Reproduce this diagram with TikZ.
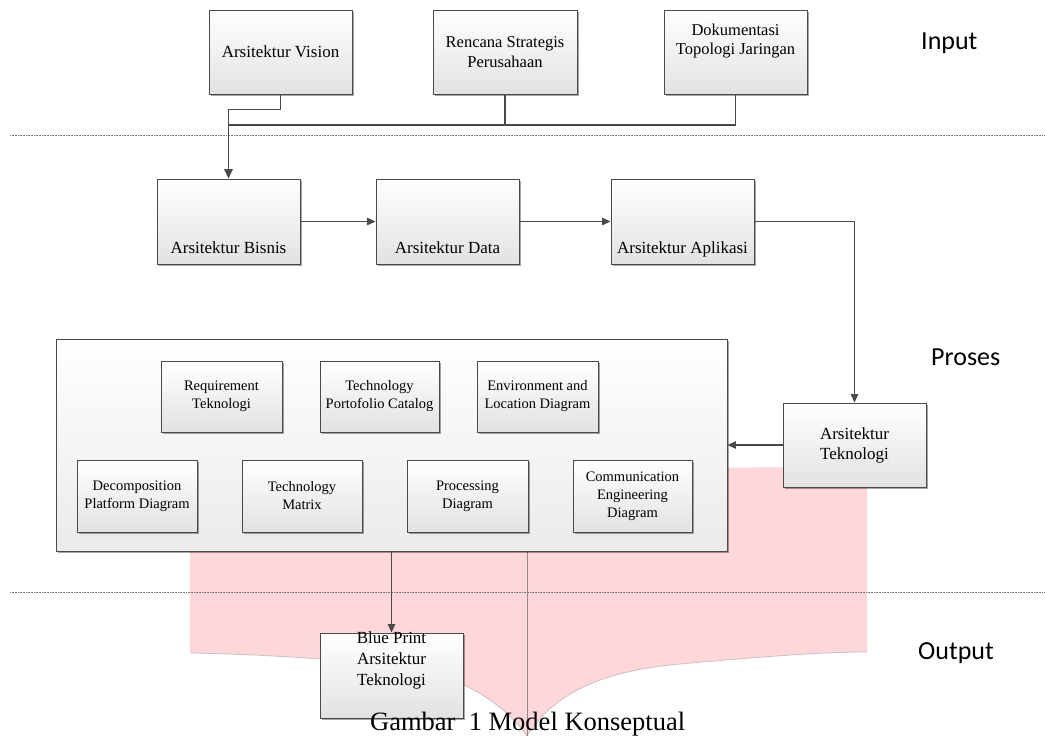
\documentclass[tikz,border=0pt]{standalone}
\usepackage{fontspec}
\setmainfont{Liberation Serif}
\newfontfamily\lblfont{Carlito}
\usetikzlibrary{arrows.meta,shadows}
\definecolor{edge}{HTML}{4A4A4A}
\definecolor{boxbot}{HTML}{E2E2E2}
\definecolor{pinkfill}{HTML}{FFD6DA}
\begin{document}
\begin{tikzpicture}[x=1pt,y=-1pt,
  box/.style={draw=edge, line width=0.9pt, top color=white, bottom color=boxbot,
    drop shadow={shadow xshift=2pt, shadow yshift=-2pt, fill=black, opacity=0.35},
    inner sep=0pt, align=center, font=\fontsize{17}{20}\selectfont},
  bigbox/.style={draw=edge, line width=0.9pt, top color=white, bottom color=black!8,
    drop shadow={shadow xshift=2pt, shadow yshift=-2pt, fill=black, opacity=0.35},
    inner sep=0pt},
  inbox/.style={box, font=\fontsize{14.5}{18}\selectfont},
  intext/.style={align=center, inner sep=0pt},
  conn/.style={draw=edge, line width=1.2pt},
  arr/.style={conn, -{Triangle[length=8.5pt,width=7.5pt]}},
  sep/.style={draw=black!55, line width=0.6pt, densely dotted},
  lbl/.style={font=\lblfont\fontsize{26}{30}\selectfont, anchor=base west, inner sep=0pt},
]
\useasboundingbox (0,0) rectangle (1045,736);

% separators
\draw[sep] (10,135) -- (1045,135);

% pink shape
\fill[pinkfill] (190,470) -- (190,653)
  .. controls (250,654) and (320,658) .. (390,665)
  .. controls (460,672) and (505,705) .. (527,736)
  .. controls (550,700) and (590,672) .. (680,664)
  .. controls (760,657) and (820,652) .. (867,652)
  -- (867,467) -- cycle;
\draw[black!30, line width=0.8pt, opacity=0.7] (190,653)
  .. controls (250,654) and (320,658) .. (390,665)
  .. controls (460,672) and (505,705) .. (527,736)
  .. controls (550,700) and (590,672) .. (680,664)
  .. controls (760,657) and (820,652) .. (867,652);
\draw[black!45, line width=0.6pt] (527,551) -- (527,736);
\draw[sep] (10,592) -- (1045,592);

% input boxes
\node[box, minimum width=143pt, minimum height=84pt] (vision) at (280.5,52) {Arsitektur Vision};
\node[box, minimum width=144pt, minimum height=84pt, font=\fontsize{16.5}{20}\selectfont] (rencana) at (505,52) {Rencana Strategis\\Perusahaan};
\node[box, minimum width=143pt, minimum height=84pt,
  label={[intext, font=\fontsize{16.5}{19.5}\selectfont, anchor=north, yshift=-14pt]north:Dokumentasi\\Topologi Jaringan}] (dok) at (735.5,52) {};

% process row
\node[box, minimum width=143pt, minimum height=85pt,
  label={[intext, font=\fontsize{17}{20}\selectfont, anchor=base, yshift=10.5pt]south:Arsitektur Bisnis}] (bisnis) at (228.5,221.5) {};
\node[box, minimum width=143pt, minimum height=85pt,
  label={[intext, font=\fontsize{17}{20}\selectfont, anchor=base, yshift=10.5pt]south:Arsitektur Data}] (data) at (447.5,221.5) {};
\node[box, minimum width=143pt, minimum height=85pt,
  label={[intext, font=\fontsize{17}{20}\selectfont, anchor=base, yshift=10.5pt]south:Arsitektur Aplikasi}] (aplikasi) at (682.5,221.5) {};

\node[box, minimum width=143pt, minimum height=84pt, font=\fontsize{17}{20}\selectfont] (teknologi) at (854.5,445) {Arsitektur\\Teknologi};

% big container
\node[bigbox, minimum width=671pt, minimum height=212pt] (big) at (391.5,445) {};
\node[inbox, minimum width=121pt, minimum height=71pt] (req) at (221.5,396.5) {Requirement\\Teknologi};
\node[inbox, minimum width=119pt, minimum height=71pt] (port) at (379.5,396.5) {Technology\\Portofolio Catalog};
\node[inbox, minimum width=121pt, minimum height=71pt] (env) at (537.5,396.5) {Environment and\\Location Diagram};
\node[inbox, minimum width=120pt, minimum height=72pt] (decomp) at (137,496) {Decomposition\\Platform Diagram};
\node[inbox, minimum width=120pt, minimum height=72pt] (matrix) at (302,496) {Technology\\Matrix};
\node[inbox, minimum width=121pt, minimum height=72pt] (proc) at (467.5,496) {Processing\\Diagram};
\node[inbox, minimum width=119pt, minimum height=72pt] (comm) at (632.5,496) {Communication\\Engineering\\Diagram};

% output
\node[box, minimum width=143pt, minimum height=85pt,
  label={[intext, font=\fontsize{17}{21}\selectfont, anchor=north, yshift=1pt]north:Blue Print\\Arsitektur\\Teknologi}] (blue) at (391.5,675.5) {};

% connectors
\coordinate (join) at (229,125);
\draw[conn] (rencana.south) |- (join);
\draw[conn] (dok.south) |- (join);
\draw[conn, line width=1.6pt, -{Triangle[length=9.5pt,width=8.5pt]}] (vision.south) -- ++(0,15) -| (bisnis.north);
\draw[arr] (bisnis.east) -- (data.west);
\draw[arr] (data.east) -- (aplikasi.west);
\draw[arr] (aplikasi.east) -| (teknologi.north);
\draw[arr] (teknologi.west) -- (teknologi.west -| big.east);
\draw[arr] (big.south) -- (blue.north);

% section labels
\node[lbl] (lin) at (921,49) {Input};
\node[lbl] (lpr) at (931,365) {Proses};
\node[lbl] (lout) at (918,659) {Output};

% caption
\node[anchor=base west, inner sep=0pt, font=\fontsize{26.5}{30}\selectfont] (cap) at (370,730) {Gambar\ \ 1 Model Konseptual};
\end{tikzpicture}
\end{document}
